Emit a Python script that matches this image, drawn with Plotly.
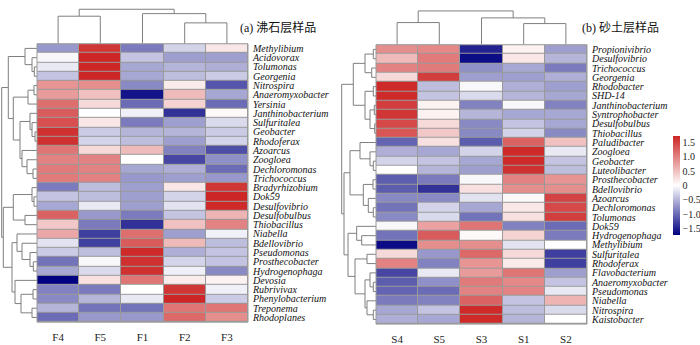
import plotly.graph_objects as go

W, H = 700, 345

# ---------------- data ----------------
left_cols = ["F4", "F5", "F1", "F2", "F3"]
left_rows = ["Methylibium", "Acidovorax", "Tolumonas", "Georgenia", "Nitrospira",
             "Anaeromyxobacter", "Yersinia", "Janthinobacterium", "Sulfuritalea", "Geobacter",
             "Rhodoferax", "Azoarcus", "Zoogloea", "Dechloromonas", "Trichococcus",
             "Bradyrhizobium", "Dok59", "Desulfovibrio", "Desulfobulbus", "Thiobacillus",
             "Niabella", "Bdellovibrio", "Pseudomonas", "Prosthecobacter", "Hydrogenophaga",
             "Devosia", "Rubrivivax", "Phenylobacterium", "Treponema", "Rhodoplanes"]
left_vals = [
    [-0.70, 1.60, -0.90, -0.30, 0.20],
    [-0.05, 1.75, -0.40, -0.65, -0.65],
    [-0.15, 1.75, -0.60, -0.50, -0.55],
    [-0.40, 1.75, -0.60, -0.45, -0.35],
    [0.85, 0.90, -0.80, 0.15, -1.15],
    [0.80, 0.50, -1.60, 0.55, -0.60],
    [1.15, 0.30, -1.00, 0.35, -1.00],
    [1.30, 0.00, -0.10, -1.40, 0.05],
    [1.40, 0.20, -0.90, -0.65, -0.25],
    [1.65, -0.35, -0.50, -0.50, -0.35],
    [1.65, -0.30, -0.45, -0.65, -0.30],
    [1.10, 0.30, 0.55, -0.85, -1.20],
    [1.00, 1.00, 0.00, -1.25, -0.75],
    [1.05, 1.00, -0.60, -0.55, -1.00],
    [1.05, 1.00, -0.70, -0.65, -0.70],
    [-0.90, -0.45, -0.65, 0.20, 1.60],
    [-0.40, -0.45, -0.65, -0.30, 1.75],
    [-0.60, -0.15, -0.65, -0.20, 1.70],
    [1.25, -0.70, -0.90, -0.40, 0.60],
    [0.45, -0.90, -1.40, 0.50, 1.00],
    [0.70, -1.30, 1.15, -0.65, -0.10],
    [-0.20, -1.30, 1.30, 0.55, -0.45],
    [-0.35, -0.45, 1.70, -0.55, -0.40],
    [-0.95, -0.05, 1.65, -0.30, -0.40],
    [-0.60, -0.25, 1.65, -0.10, -0.80],
    [-1.75, 0.25, 1.10, 0.15, 0.10],
    [-0.85, -0.90, 0.00, 1.60, -0.10],
    [-0.80, -0.50, -0.15, 1.75, -0.35],
    [-0.50, -0.95, -0.95, 1.10, 1.10],
    [-1.00, -0.70, -0.70, 1.20, 0.90],
]

right_cols = ["S4", "S5", "S3", "S1", "S2"]
right_rows = ["Propionivibrio", "Desulfovibrio", "Trichococcus", "Georgenia", "Rhodobacter",
              "SHD-14", "Janthinobacterium", "Syntrophobacter", "Desulfobulbus", "Thiobacillus",
              "Paludibacter", "Zoogloea", "Geobacter", "Luteolibacter", "Prosthecobacter",
              "Bdellovibrio", "Azoarcus", "Dechloromonas", "Tolumonas", "Dok59",
              "Hydrogenophaga", "Methylibium", "Sulfuritalea", "Rhodoferax", "Flavobacterium",
              "Anaeromyxobacter", "Pseudomonas", "Niabella", "Nitrospira", "Kaistobacter"]
right_vals = [
    [0.90, 0.95, -1.50, 0.10, -0.65],
    [0.55, 1.05, -1.65, 0.20, -0.50],
    [1.00, 1.05, -0.75, -0.60, -0.90],
    [0.30, 1.55, -0.65, -0.65, -0.55],
    [1.70, -0.45, -0.05, -0.55, -0.65],
    [1.70, -0.40, -0.25, -0.50, -0.60],
    [1.55, 0.10, -0.85, -0.05, -0.85],
    [1.60, 0.10, -0.50, -0.60, -0.60],
    [1.45, 0.30, -0.80, -0.40, -0.60],
    [1.35, 0.45, -0.80, -0.30, -0.80],
    [-1.05, 0.25, -1.10, 1.25, 0.50],
    [-0.55, -0.60, -0.30, 1.70, -0.15],
    [-0.30, -0.40, -0.60, 1.70, -0.40],
    [0.00, -0.50, -0.65, 1.65, -0.45],
    [-1.10, -0.90, -0.05, 1.00, 0.85],
    [-1.10, -1.40, 0.25, 0.90, 0.90],
    [-0.80, -0.80, -0.20, 0.05, 1.50],
    [-0.95, -0.30, -0.60, 0.20, 1.45],
    [-0.80, -0.25, -0.95, 0.25, 1.55],
    [-0.05, 0.75, 1.10, -0.85, -1.00],
    [-0.95, 1.30, 0.05, 0.35, -0.90],
    [-1.65, 0.90, 0.90, -0.20, 0.00],
    [0.30, -0.70, 1.20, 0.30, -1.30],
    [1.00, -0.85, 0.85, 0.15, -1.30],
    [-1.25, -0.15, 0.80, 1.10, -0.65],
    [-1.10, -0.75, 1.05, 0.95, -0.40],
    [-1.05, -1.00, 1.00, 1.00, -0.15],
    [-0.90, -0.85, 1.25, -0.40, 0.60],
    [-0.60, -0.40, 1.70, -0.45, -0.25],
    [-0.55, -0.60, 1.70, -0.50, 0.00],
]

# dendrogram trees: [merge_height, child_a, child_b]; leaves are row/col indices
left_row_tree = [35.3,
                 [28.7,
                  [12, 0, [5, 1, [2.7, 2, 3]]],
                  [23.7,
                   [9, [3, 4, 5], 6],
                   [17,
                    [7, 7, [5, 8, [2, 9, 10]]],
                    [15, 11, [10, 12, [4, 13, 14]]]]]],
                 [33.7,
                  [23.7, [5, 15, [3, 16, 17]], [12, 18, 19]],
                  [25,
                   [20, 20, [15, 21, [7, 22, [3.7, 23, 24]]]],
                   [22, 25, [16, [4, 26, 27], [5, 28, 29]]]]]]
left_col_tree = [34.7, [27.7, 0, 1], [30.3, 2, [21, 3, 4]]]

right_row_tree = [34.3,
                  [22.7,
                   [11, [2.7, 0, 1], [4.3, 2, 3]],
                   [11, [2.7, 4, 5], [6, [1.7, 6, 7], [1.3, 8, 9]]]],
                  [32,
                   [26,
                    [16, 10, [6, 11, [2.7, 12, 13]]],
                    [12.7, [3, 14, 15], [7.7, 16, [2.7, 17, 18]]]],
                   [28,
                    [19.3, 19, [14.3, 20, 21]],
                    [21, [9, 22, 23],
                     [11, [6, 24, [2.7, 25, 26]], [9, 27, [2.7, 28, 29]]]]]]]
right_col_tree = [34, [22.3, 0, 1], [27, 2, [21.3, 3, 4]]]

cb_ticks = [1.5, 1.0, 0.5, 0, -0.5, -1.0, -1.5]
cb_text = ["1.5", "1.0", "0.5", "0", "\u22120.5", "\u22121.0", "\u22121.5"]

# ---------------- helpers ----------------
def dendro(tree):
    pos, hts = [], []

    def walk(node):
        if isinstance(node, int):
            return float(node), 0.0
        h, a, b = node
        ca, ha = walk(a)
        cb, hb = walk(b)
        pos.extend([ca, ca, cb, cb, None])
        hts.extend([ha, h, h, hb, None])
        return (ca + cb) / 2.0, h

    walk(tree)
    return pos, hts


def px_x(p):
    return p / W


def px_y(p):
    return 1 - p / H


colorscale = [[0, "rgb(0,0,128)"], [0.5, "rgb(255,255,255)"], [1, "rgb(205,38,38)"]]
serif = "Liberation Serif, Times New Roman, serif"
grid_col = "#9a9a9a"
dcol = "#7f7f7f"

fig = go.Figure()

# heatmaps
fig.add_trace(go.Heatmap(
    z=left_vals, x=list(range(5)), y=list(range(30)),
    colorscale=colorscale, zmin=-1.73, zmax=1.73, xgap=1, ygap=1,
    xaxis="x", yaxis="y",
    colorbar=dict(x=px_x(673), xanchor="left", y=px_y(185.5), yanchor="middle",
                  len=99, lenmode="pixels", thickness=7, thicknessmode="pixels",
                  outlinewidth=0, xpad=0, ypad=0, ticks="",
                  tickvals=cb_ticks, ticktext=cb_text,
                  tickfont=dict(family=serif, size=10, color="#222"))))
fig.add_trace(go.Heatmap(
    z=right_vals, x=list(range(5)), y=list(range(30)),
    colorscale=colorscale, zmin=-1.73, zmax=1.73, xgap=1, ygap=1,
    xaxis="x2", yaxis="y2", showscale=False))

# dendrograms
p, h = dendro(left_row_tree)
fig.add_trace(go.Scatter(x=h, y=p, mode="lines", line=dict(color=dcol, width=1),
                         xaxis="x3", yaxis="y3", hoverinfo="skip", showlegend=False))
p, h = dendro(left_col_tree)
fig.add_trace(go.Scatter(x=p, y=h, mode="lines", line=dict(color=dcol, width=1),
                         xaxis="x4", yaxis="y4", hoverinfo="skip", showlegend=False))
p, h = dendro(right_row_tree)
fig.add_trace(go.Scatter(x=h, y=p, mode="lines", line=dict(color=dcol, width=1),
                         xaxis="x5", yaxis="y5", hoverinfo="skip", showlegend=False))
p, h = dendro(right_col_tree)
fig.add_trace(go.Scatter(x=p, y=h, mode="lines", line=dict(color=dcol, width=1),
                         xaxis="x6", yaxis="y6", hoverinfo="skip", showlegend=False))

L_x = [px_x(37), px_x(248)]
L_y = [px_y(323), px_y(43)]
R_x = [px_x(376), px_x(587)]
R_y = [px_y(325), px_y(44)]

def hm_xaxis(dom, anchor, labels):
    return dict(domain=dom, anchor=anchor, range=[-0.5, 4.5], tickvals=list(range(5)),
                ticktext=labels, ticks="outside", ticklen=5, tickcolor="rgba(0,0,0,0)",
                showgrid=False, zeroline=False, showline=False,
                tickfont=dict(family=serif, size=11, color="#222"))

def hm_yaxis(dom, anchor, labels):
    return dict(domain=dom, anchor=anchor, range=[29.5, -0.5], side="right",
                tickvals=list(range(30)), ticktext=["<i>%s</i>" % s for s in labels],
                ticks="outside", ticklen=2, tickcolor="rgba(0,0,0,0)",
                showgrid=False, zeroline=False, showline=False,
                tickfont=dict(family=serif, size=10, color="#111"))

hidden = dict(visible=False, showgrid=False, zeroline=False)

fig.update_layout(
    width=W, height=H, margin=dict(l=0, r=0, t=0, b=0),
    paper_bgcolor="white", plot_bgcolor="white", showlegend=False,
    xaxis=hm_xaxis(L_x, "y", left_cols),
    yaxis=hm_yaxis(L_y, "x", left_rows),
    xaxis2=hm_xaxis(R_x, "y2", right_cols),
    yaxis2=hm_yaxis(R_y, "x2", right_rows),
    xaxis3=dict(hidden, domain=[0, px_x(37)], range=[37, 0], anchor="y3"),
    yaxis3=dict(hidden, domain=L_y, range=[29.5, -0.5], anchor="x3"),
    xaxis4=dict(hidden, domain=L_x, range=[-0.5, 4.5], anchor="y4"),
    yaxis4=dict(hidden, domain=[px_y(43), 1], range=[0, 43], anchor="x4"),
    xaxis5=dict(hidden, domain=[px_x(340), px_x(376)], range=[36, 0], anchor="y5"),
    yaxis5=dict(hidden, domain=R_y, range=[29.5, -0.5], anchor="x5"),
    xaxis6=dict(hidden, domain=R_x, range=[-0.5, 4.5], anchor="y6"),
    yaxis6=dict(hidden, domain=[px_y(44), 1], range=[0, 44], anchor="x6"),
)

# grey grid background and outer borders for heatmaps
for xr, yr in (("x", "y"), ("x2", "y2")):
    fig.add_shape(type="rect", xref=xr + " domain", yref=yr + " domain",
                  x0=0, x1=1, y0=0, y1=1, fillcolor=grid_col, line_width=0, layer="below")
    fig.add_shape(type="rect", xref=xr + " domain", yref=yr + " domain",
                  x0=0, x1=1, y0=0, y1=1, line=dict(color=grid_col, width=1), layer="above")

title_font = dict(family="Liberation Serif, Noto Sans CJK SC", size=12, color="#111")
fig.add_annotation(text="(a) 沸石层样品", xref="paper", yref="paper", x=px_x(238), y=px_y(27),
                   xanchor="left", yanchor="middle", showarrow=False, font=title_font)
fig.add_annotation(text="(b) 砂土层样品", xref="paper", yref="paper", x=px_x(580), y=px_y(27),
                   xanchor="left", yanchor="middle", showarrow=False, font=title_font)

fig.write_html("out.html")
